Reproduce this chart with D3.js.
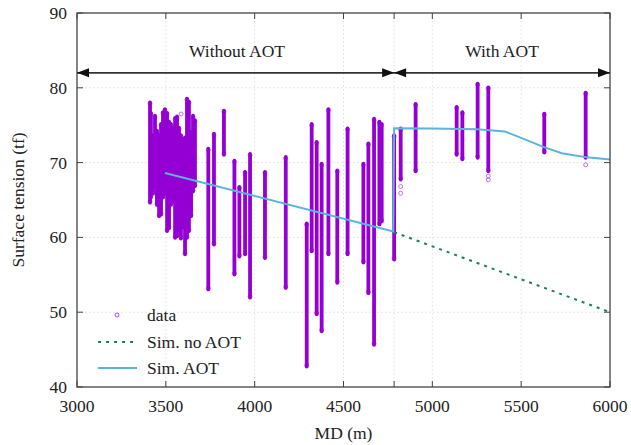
<!DOCTYPE html>
<html><head><meta charset="utf-8">
<script src="https://cdn.jsdelivr.net/npm/d3@7"></script>
<style>body{margin:0;background:#fff}svg text{font-family:"Liberation Serif","Times New Roman",serif;fill:#222}</style>
</head><body><svg id="c" width="631" height="445"></svg>
<script>
// ---- data ----
const xTicks = [3000,3500,4000,4500,5000,5500,6000];
const yTicks = [40,50,60,70,80,90];
const switchMD = 4785;
// data strips (measured depth, min and max surface tension observed)
const stripMD   = [3411,3416,3428,3439,3450,3462,3473,3484,3495,3507,3518,3529,3540,3552,3563,3574,3585,3597,3608,3619,3630,3642,3653,3664,
                   3739,3771,3827,3886,3914,3946,3974,4058,4175,4293,4321,4349,4377,4415,4465,4523,4612,4640,4672,4702,4715,4785,4822,4906,5137,5169,5255,5315,5630,5863];
const stripLow  = [64.8,65.5,66.0,67.0,64.5,63.0,63.2,65.5,66.0,61.0,61.4,64.5,65.0,60.1,60.3,61.0,60.0,61.5,57.9,60.1,61.0,63.0,66.3,67.0,
                   53.2,59.2,71.2,55.2,57.6,57.9,52.1,57.4,53.4,42.9,58.3,49.9,47.6,57.9,54.1,57.9,56.8,52.7,45.8,61.9,62.3,57.2,67.9,69.0,71.2,70.6,70.8,69.0,71.5,70.8];
const stripHigh = [77.9,76.5,73.5,76.1,74.1,73.5,75.0,76.6,77.0,76.5,75.3,75.0,74.5,75.8,76.0,74.5,73.5,73.0,73.2,78.4,78.0,74.0,76.1,75.5,
                   71.7,73.7,76.8,70.1,66.6,68.6,71.0,68.6,70.6,61.7,75.0,72.6,69.7,77.0,68.8,74.4,69.7,72.4,75.7,75.3,75.0,73.5,74.4,77.7,77.3,76.6,80.4,79.9,76.4,79.2];
// isolated data points
const extraMD  = [4822,4822,5315,5315,5863,3586];
const extraVal = [66.8,65.9,68.2,67.7,69.7,76.5];
// simulation with AOT
const simAotMD  = [3495,4780,4785,5000,5250,5409,5500,5625,5728,5869,6000];
const simAotVal = [68.6,60.8,74.6,74.55,74.45,74.15,73.3,72.1,71.25,70.7,70.4];
// simulation without AOT (continuation)
const simNoMD  = [4785,6000];
const simNoVal = [60.7,50.0];

// ---- layout ----
const L=77,R=610,T=13,B=387;
const svg=d3.select("#c");
const x=d3.scaleLinear().domain([3000,6000]).range([L,R]);
const y=d3.scaleLinear().domain([40,90]).range([B,T]);
const purple="#9400d3", blue="#5ab4dc", green="#1f7d60", frame="#444";
const fs=17.5;

// grid
const g=svg.append("g");
xTicks.slice(1,-1).concat([switchMD]).forEach(v=>{
  g.append("line").attr("x1",x(v)).attr("x2",x(v)).attr("y1",T).attr("y2",B)
   .attr("stroke","#d8d8d8").attr("stroke-width",0.8).attr("stroke-dasharray","1.5,2.5");
});
yTicks.slice(1,-1).forEach(v=>{
  g.append("line").attr("x1",L).attr("x2",R).attr("y1",y(v)).attr("y2",y(v))
   .attr("stroke","#d8d8d8").attr("stroke-width",0.8).attr("stroke-dasharray","1.5,2.5");
});

// data strips
const dg=svg.append("g");
stripMD.forEach((m,i)=>{
  dg.append("line").attr("x1",x(m)).attr("x2",x(m)).attr("y1",y(stripLow[i])+1.2).attr("y2",y(stripHigh[i])-1.2)
    .attr("stroke",purple).attr("stroke-width",3.8).attr("stroke-linecap","round");
  [stripLow[i],stripHigh[i]].forEach(v=>{
    dg.append("circle").attr("cx",x(m)).attr("cy",y(v)).attr("r",2).attr("fill","none")
      .attr("stroke",purple).attr("stroke-opacity",0.6).attr("stroke-width",0.9);
  });
});
extraMD.forEach((m,i)=>{
  dg.append("circle").attr("cx",x(m)).attr("cy",y(extraVal[i])).attr("r",2).attr("fill","none")
    .attr("stroke",purple).attr("stroke-opacity",0.6).attr("stroke-width",0.9);
});

// simulations
const line=d3.line().x(d=>x(d[0])).y(d=>y(d[1]));
svg.append("path").attr("d",line(simNoMD.map((m,i)=>[m,simNoVal[i]])))
  .attr("fill","none").attr("stroke",green).attr("stroke-width",2).attr("stroke-dasharray","3,5");
svg.append("path").attr("d",line(simAotMD.map((m,i)=>[m,simAotVal[i]])))
  .attr("fill","none").attr("stroke",blue).attr("stroke-width",2);

// frame and ticks
svg.append("rect").attr("x",L).attr("y",T).attr("width",R-L).attr("height",B-T)
  .attr("fill","none").attr("stroke",frame).attr("stroke-width",1.3);
xTicks.concat([switchMD]).forEach(v=>{
  svg.append("line").attr("x1",x(v)).attr("x2",x(v)).attr("y1",B).attr("y2",B-6).attr("stroke",frame);
  svg.append("line").attr("x1",x(v)).attr("x2",x(v)).attr("y1",T).attr("y2",T+6).attr("stroke",frame);
});
yTicks.forEach(v=>{
  svg.append("line").attr("x1",L).attr("x2",L+6).attr("y1",y(v)).attr("y2",y(v)).attr("stroke",frame);
  svg.append("line").attr("x1",R).attr("x2",R-6).attr("y1",y(v)).attr("y2",y(v)).attr("stroke",frame);
});
xTicks.forEach(v=>{
  svg.append("text").attr("x",x(v)).attr("y",B+25).attr("text-anchor","middle").attr("font-size",fs).text(v);
});
yTicks.forEach(v=>{
  svg.append("text").attr("x",L-10).attr("y",y(v)+6).attr("text-anchor","end").attr("font-size",fs).text(v);
});
svg.append("text").attr("x",(L+R)/2).attr("y",439).attr("text-anchor","middle").attr("font-size",fs).text("MD (m)");
svg.append("text").attr("transform",`translate(24,${(T+B)/2}) rotate(-90)`).attr("text-anchor","middle")
  .attr("font-size",fs).text("Surface tension (tf)");

// region arrows
const ay=y(82), ah=12, aw=4.5;
svg.append("line").attr("x1",x(3000)).attr("x2",x(6000)).attr("y1",ay).attr("y2",ay).attr("stroke","#333").attr("stroke-width",1.6);
function head(px,dir){ // dir -1 left, +1 right (tip at px)
  svg.append("path").attr("d",`M${px},${ay} L${px-dir*ah},${ay-aw} L${px-dir*ah},${ay+aw} Z`).attr("fill","#111");
}
head(x(3000),-1); head(x(switchMD),1); head(x(switchMD),-1); head(x(6000),1);
svg.append("text").attr("x",237).attr("y",57).attr("text-anchor","middle").attr("font-size",fs).text("Without AOT");
svg.append("text").attr("x",502).attr("y",57).attr("text-anchor","middle").attr("font-size",fs).text("With AOT");

// legend
const lg=svg.append("g");
lg.append("circle").attr("cx",117).attr("cy",315).attr("r",2).attr("fill","none").attr("stroke",purple).attr("stroke-opacity",0.7);
lg.append("line").attr("x1",98).attr("x2",137).attr("y1",342).attr("y2",342).attr("stroke",green).attr("stroke-width",2).attr("stroke-dasharray","3,5");
lg.append("line").attr("x1",98).attr("x2",137).attr("y1",368).attr("y2",368).attr("stroke",blue).attr("stroke-width",2);
[["data",315],["Sim. no AOT",342],["Sim. AOT",368]].forEach(d=>{
  lg.append("text").attr("x",147).attr("y",d[1]+6).attr("font-size",fs).text(d[0]);
});
</script></body></html>
